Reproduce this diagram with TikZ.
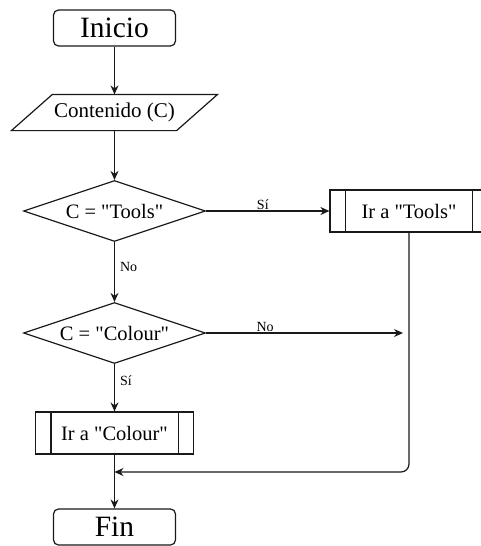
\documentclass[tikz,border=0pt]{standalone}
\usepackage{fontspec}
\setmainfont{Liberation Serif}[Ligatures=TeXOff]
\usetikzlibrary{shapes.geometric,arrows.meta}
\tikzset{
  conn/.style={-{Stealth[length=9pt,width=8pt]}},
  terminal/.style={draw, rounded corners=5pt, minimum width=122pt, minimum height=36pt, inner sep=0pt, font=\fontsize{29.5}{31}\selectfont},
  decision/.style={draw, diamond, aspect=2.98, minimum width=182pt, minimum height=61pt, inner sep=0pt, font=\fontsize{20.5}{22}\selectfont},
  iobox/.style={minimum width=164pt, minimum height=35pt, inner sep=0pt, font=\fontsize{21}{23}\selectfont},
  subproc/.style={draw, minimum width=158pt, minimum height=42pt, inner sep=0pt, font=\fontsize{20.5}{22}\selectfont},
  lbl/.style={font=\fontsize{14}{16}\selectfont, inner sep=1pt}
}
\begin{document}
\begin{tikzpicture}[x=1pt, y=-1pt, line width=1.2pt, color=black!90, text=black]
\clip (0,0) rectangle (481,546);
% nodes
\node[terminal] (inicio) at (114.5,28) {Inicio};
\node[iobox] (cont) at (114.5,112.5) {Contenido (C)};
\draw ([xshift=20.5pt]cont.north west) -- ([xshift=20.5pt]cont.north east) -- ([xshift=-20.5pt]cont.south east) -- ([xshift=-20.5pt]cont.south west) -- cycle;
\node[decision] (d1) at (114.5,211) {C = "Tools"};
\node[subproc] (tools) at (409,211) {Ir a "Tools"};
\draw ([xshift=16pt]tools.north west) -- ([xshift=16pt]tools.south west);
\draw ([xshift=-16pt]tools.north east) -- ([xshift=-16pt]tools.south east);
\node[decision] (d2) at (114.5,333) {C = "Colour"};
\node[subproc] (colour) at (114.5,433) {Ir a "Colour"};
\draw ([xshift=16pt]colour.north west) -- ([xshift=16pt]colour.south west);
\draw ([xshift=-16pt]colour.north east) -- ([xshift=-16pt]colour.south east);
\node[terminal] (fin) at (114.5,527) {Fin};
\coordinate (noend) at (403,333);
\coordinate (join) at (114.5,472);
% connectors
\draw[conn] (inicio) -- (cont);
\draw[conn] (cont) -- (d1);
\draw[conn] (d1.east) -- node[lbl, above, pos=0.46] {Sí} (tools.west);
\draw[conn] (d1.south) -- node[lbl, right, pos=0.42, xshift=4pt] {No} (d2.north);
\draw[conn] (d2.east) -- node[lbl, above, pos=0.3] {No} (noend);
\draw[conn] (d2.south) -- node[lbl, right, pos=0.35, xshift=4pt] {Sí} (colour.north);
\draw[conn, rounded corners=8pt] (tools.south) |- (join);
\draw[conn] (colour.south) -- (fin.north);
\end{tikzpicture}
\end{document}
